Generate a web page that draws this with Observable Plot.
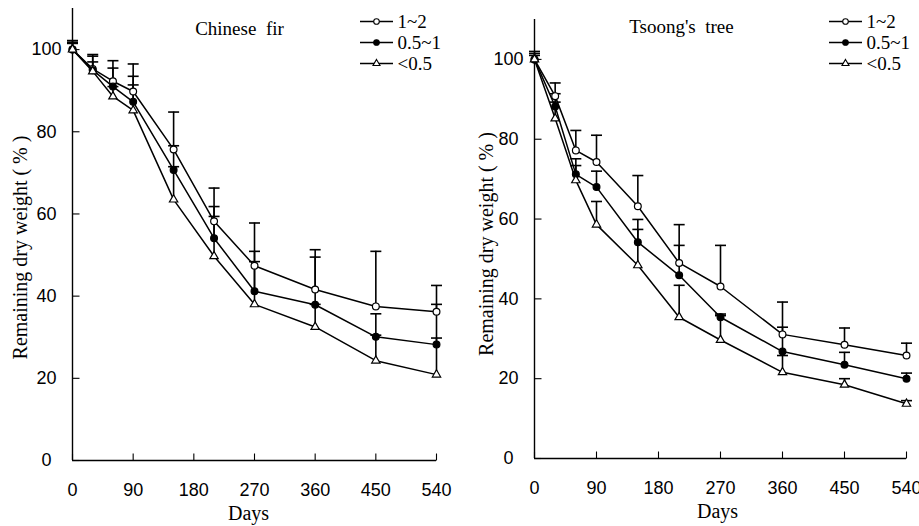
<!DOCTYPE html>
<html><head><meta charset="utf-8">
<script src="https://cdn.jsdelivr.net/npm/d3@7"></script>
<script src="https://cdn.jsdelivr.net/npm/@observablehq/plot@0.6"></script>
<style>
html,body{margin:0;padding:0;background:#fff;}
#wrap{position:relative;width:919px;height:526px;overflow:hidden;background:#fff;}
#wrap > svg{position:absolute;top:0;}
</style></head><body><div id="wrap"></div>
<script>
// ---- data ----
const days = [0, 30, 60, 90, 150, 210, 270, 360, 450, 540];
const xTicks = [0, 90, 180, 270, 360, 450, 540];
const yTicks = [0, 20, 40, 60, 80, 100];
const seriesNames = ["1~2", "0.5~1", "<0.5"];

// Chinese fir: means and upper error-bar ends
const fir_1_2      = [100, 95.3, 92.3, 89.8, 75.7, 58.2, 47.4, 41.6, 37.5, 36.2];
const fir_1_2_up   = [102.2, 98.8, 97.3, 96.5, 84.8, 66.3, 57.8, 51.3, 50.9, 42.6];
const fir_05_1     = [100, 95.0, 91.0, 87.3, 70.7, 54.1, 41.2, 37.9, 30.1, 28.2];
const fir_05_1_up  = [101.8, 98.4, 95.5, 93.5, 76.6, 61.8, 50.9, 49.5, 35.7, 38.0];
const fir_lt05     = [100, 94.7, 88.6, 85.2, 63.5, 49.7, 38.0, 32.5, 24.3, 20.9];
const fir_lt05_up  = [101.5, 97.0, 91.0, 91.4, 71.5, 59.4, 48.4, 38.0, 30.5, 29.8];

// Tsoong's tree: means and upper error-bar ends
const ts_1_2       = [100, 90.8, 77.2, 74.3, 63.2, 49.0, 43.1, 31.1, 28.5, 25.8];
const ts_1_2_up    = [102.0, 94.1, 82.2, 81.0, 70.9, 58.6, 53.4, 39.2, 32.7, 28.9];
const ts_05_1      = [100, 88.2, 71.2, 68.0, 54.2, 45.9, 35.4, 26.8, 23.5, 20.0];
const ts_05_1_up   = [101.5, 91.4, 75.1, 72.0, 59.9, 53.4, 36.2, 32.9, 26.6, 21.4];
const ts_lt05      = [100, 85.2, 69.7, 58.6, 48.4, 35.4, 29.7, 21.6, 18.5, 13.7];
const ts_lt05_up   = [101.0, 89.3, 73.4, 64.4, 57.4, 43.4, 35.8, 25.8, 20.0, 14.5];

// ---- styles ----
const SANS = "Liberation Sans, Arial, sans-serif";
const SERIF = "Liberation Serif, Times New Roman, serif";
const symLen = (size) => Math.sqrt(size / Math.PI);
const hbar = {draw(ctx, size) { const r = symLen(size); ctx.moveTo(-r, 0); ctx.lineTo(r, 0); }};
const tickRight = {draw(ctx, size) { const r = symLen(size); ctx.moveTo(0, 0); ctx.lineTo(r, 0); }};
const tickUp = {draw(ctx, size) { const r = symLen(size); ctx.moveTo(0, 0); ctx.lineTo(0, -r); }};
const seriesStyle = [
  {symbol: "circle", fill: "white", r: 3.4, lr: 2.8},
  {symbol: "circle", fill: "black", r: 3.4, lr: 2.8},
  {symbol: "triangle", fill: "white", r: 3.1, lr: 2.6}
];

function panel(cfg) {
  const rowsList = cfg.means.map((m, i) => days.map((d, j) => ({day: d, mean: m[j], up: cfg.ups[i][j]})));
  const marks = [];
  // axes
  marks.push(Plot.ruleX([0], {stroke: "black", strokeWidth: 1.4}));
  marks.push(Plot.ruleY([0], {stroke: "black", strokeWidth: 1.4}));
  marks.push(Plot.dot(yTicks, {y: d => d, frameAnchor: "left", symbol: tickRight, r: 7, stroke: "black", fill: "none", strokeWidth: 1.1}));
  marks.push(Plot.dot(xTicks, {x: d => d, frameAnchor: "bottom", symbol: tickUp, r: 7, stroke: "black", fill: "none", strokeWidth: 1.1}));
  marks.push(Plot.text(yTicks, {y: d => d, frameAnchor: "left", text: d => String(d), dx: cfg.yTickDx, textAnchor: "middle", lineAnchor: "middle", fontSize: 18, fontFamily: SANS, fill: "black"}));
  marks.push(Plot.text(xTicks, {x: d => d, frameAnchor: "bottom", text: d => String(d), dy: 30, textAnchor: "middle", lineAnchor: "middle", fontSize: 18, fontFamily: SANS, fill: "black"}));
  marks.push(Plot.text(["Days"], {frameAnchor: "bottom", text: d => d, dx: cfg.xLabelDx, dy: 53, lineAnchor: "middle", fontSize: 20, fontFamily: SERIF, fill: "black"}));
  marks.push(Plot.text(["Remaining dry weight ( % )"], {frameAnchor: "left", text: d => d, rotate: -90, dx: cfg.yLabelDx, dy: cfg.yLabelDy, lineAnchor: "middle", textAnchor: "middle", fontSize: 20, fontFamily: SERIF, fill: "black"}));
  marks.push(Plot.text([cfg.title], {frameAnchor: "top", text: d => d, dx: cfg.titleDx, dy: cfg.titleDy, lineAnchor: "middle", fontSize: 19, fontFamily: SERIF, fill: "black"}));
  // error bars
  rowsList.forEach(rows => {
    marks.push(Plot.ruleX(rows, {x: "day", y1: "mean", y2: "up", stroke: "black", strokeWidth: 1.6}));
    marks.push(Plot.dot(rows, {x: "day", y: "up", symbol: hbar, r: 5.5, stroke: "black", fill: "none", strokeWidth: 1.6}));
  });
  // lines
  rowsList.forEach(rows => {
    marks.push(Plot.line(rows, {x: "day", y: "mean", stroke: "black", strokeWidth: 1.5}));
  });
  // markers
  rowsList.forEach((rows, i) => {
    const s = seriesStyle[i];
    marks.push(Plot.dot(rows, {x: "day", y: "mean", symbol: s.symbol, r: s.r, fill: s.fill, stroke: "black", strokeWidth: 1.2}));
  });
  // legend
  seriesNames.forEach((name, i) => {
    const s = seriesStyle[i];
    const dy = cfg.legendDy0 + i * 21;
    marks.push(Plot.dot([name], {frameAnchor: "top-right", dx: cfg.legendLineDx, dy, symbol: hbar, r: 16.5, stroke: "black", fill: "none", strokeWidth: 1.4}));
    marks.push(Plot.dot([name], {frameAnchor: "top-right", dx: cfg.legendLineDx, dy, symbol: s.symbol, r: s.lr, fill: s.fill, stroke: "black", strokeWidth: 1.1}));
    marks.push(Plot.text([name], {frameAnchor: "top-right", text: d => d, dx: cfg.legendTextDx, dy, textAnchor: "start", lineAnchor: "middle", fontSize: 19, fontFamily: SERIF, fill: "black"}));
  });
  const svg = Plot.plot({
    width: cfg.width, height: 526,
    marginLeft: cfg.ml, marginRight: cfg.mr, marginTop: cfg.mt, marginBottom: cfg.mb,
    x: {domain: [0, 540], axis: null},
    y: {domain: [0, 110], axis: null},
    style: {background: "white", overflow: "visible"},
    marks
  });
  svg.style.left = cfg.left + "px";
  return svg;
}

const wrap = document.getElementById("wrap");
wrap.appendChild(panel({
  title: "Chinese  fir",
  means: [fir_1_2, fir_05_1, fir_lt05],
  ups: [fir_1_2_up, fir_05_1_up, fir_lt05_up],
  left: 0, width: 460, ml: 72, mr: 24, mt: 8, mb: 66,
  yTickDx: -26, xLabelDx: -6, yLabelDx: -52, yLabelDy: 13,
  titleDx: -15, titleDy: 20,
  legendDy0: 13, legendLineDx: -60, legendTextDx: -39
}));
wrap.appendChild(panel({
  title: "Tsoong's  tree",
  means: [ts_1_2, ts_05_1, ts_lt05],
  ups: [ts_1_2_up, ts_05_1_up, ts_lt05_up],
  left: 460, width: 459, ml: 74, mr: 13, mt: 19, mb: 68,
  yTickDx: -26, xLabelDx: -3, yLabelDx: -48, yLabelDy: 5,
  titleDx: -39, titleDy: 7,
  legendDy0: 2, legendLineDx: -61, legendTextDx: -40
}));
</script></body></html>
